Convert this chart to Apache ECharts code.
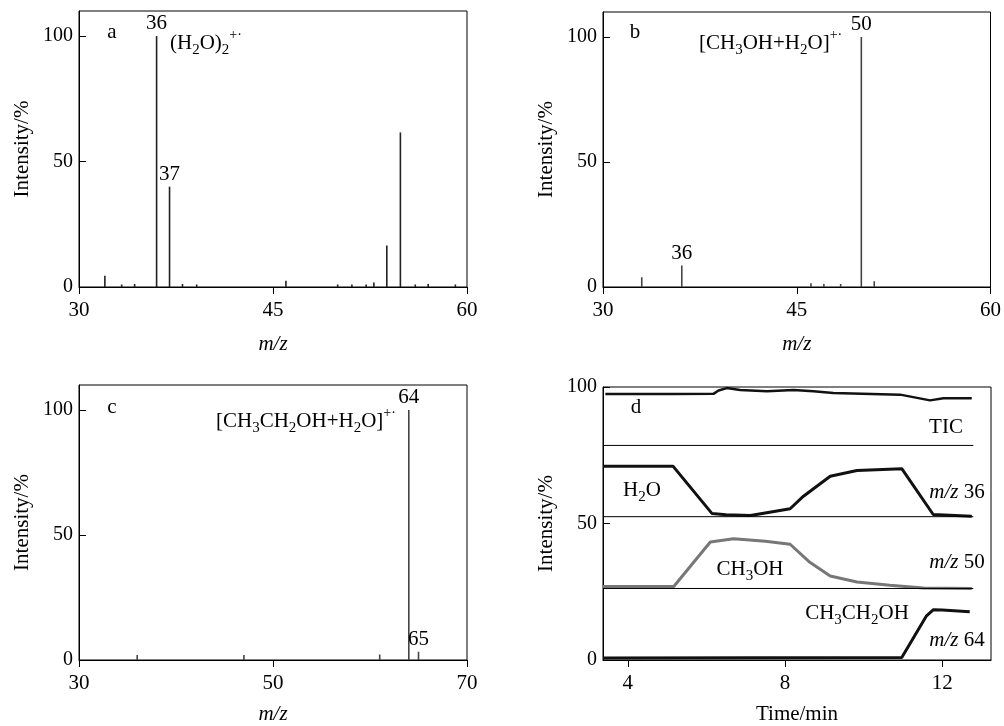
<!DOCTYPE html>
<html>
<head>
<meta charset="utf-8">
<script src="https://cdn.jsdelivr.net/npm/echarts@6/dist/echarts.min.js"></script>
<style>
    html, body { margin: 0; padding: 0; background: #fff; }
    #main { width: 1004px; height: 726px; }
</style>
</head>
<body>
<div id="main"></div>
<script>
// 质谱图 a: 水
var mzA = [32, 33.3, 34.3, 36, 37, 38, 39.1, 46, 50, 51.1, 52.2, 52.8, 53.8, 54.85, 56, 57, 59.1];
var intA = [4.5, 1, 1.2, 100, 40, 1.2, 1, 2.5, 1, 1, 1, 1.8, 16.5, 61.6, 1, 1.2, 1];
var labelA = [36, 37];
// 质谱图 b: 甲醇
var mzB = [33, 36.1, 46.1, 47.1, 48.4, 50, 51];
var intB = [3.9, 8.6, 1.5, 1.2, 1.2, 100, 2.3];
var labelB = [36.1, 50];
// 质谱图 c: 乙醇
var mzC = [36, 47, 61, 64, 65];
var intC = [2, 2, 2.2, 100, 3.3];
var labelC = [64, 65];
// 图 d: 离子流随时间变化
var ticTime = [3.43, 5.17, 6.18, 6.31, 6.52, 6.86, 7.54, 8.22, 8.72, 9.23, 10.93, 11.69, 12.03, 12.75];
var ticVal = [97.4, 97.4, 97.5, 98.7, 99.6, 98.9, 98.4, 98.9, 98.4, 97.8, 97.2, 95.1, 95.9, 95.9];
var h2oTime = [3.37, 5.15, 6.14, 6.5, 7.12, 8.13, 8.47, 9.15, 9.83, 10.97, 11.77, 12.75];
var h2oVal = [71.0, 71.0, 53.7, 53.2, 52.9, 55.4, 60.0, 67.3, 69.4, 70.1, 53.3, 52.7];
var meohTime = [3.37, 5.17, 6.1, 6.69, 7.5, 8.13, 8.64, 9.15, 9.83, 10.67, 11.52, 12.75];
var meohVal = [26.9, 26.9, 43.2, 44.4, 43.5, 42.4, 35.7, 30.8, 28.6, 27.4, 26.4, 26.2];
var etohTime = [3.37, 10.97, 11.6, 11.77, 12.0, 12.7];
var etohVal = [0.7, 0.9, 16.2, 18.4, 18.3, 17.7];
var sepLevels = [78.6, 52.5, 26.2];
var sepRange = [3.37, 12.79];

var FONT = 'Liberation Serif, Times New Roman, serif';

var rich = {
    n: { fontSize: 21, fontFamily: FONT, color: '#000', lineHeight: 30, verticalAlign: 'middle' },
    i: { fontSize: 21, fontFamily: FONT, fontStyle: 'italic', color: '#000', lineHeight: 30, verticalAlign: 'middle' },
    s: { fontSize: 15, fontFamily: FONT, color: '#000', lineHeight: 18, verticalAlign: 'bottom' },
    p: { fontSize: 14, fontFamily: FONT, color: '#000', lineHeight: 14, verticalAlign: 'top' }
};

function pairs(xs, ys) {
    return xs.map(function (x, k) { return [x, ys[k]]; });
}

function sticks(xs, ys, labels, idx, color) {
    var data = xs.map(function (x, k) {
        var item = { value: [x, ys[k]] };
        if (labels.indexOf(x) >= 0) {
            item.label = {
                show: true, position: 'top', distance: 2,
                formatter: String(Math.round(x)),
                fontFamily: FONT, fontSize: 21, color: '#000'
            };
        }
        return item;
    });
    return {
        type: 'bar', xAxisIndex: idx, yAxisIndex: idx,
        barWidth: 1.6, itemStyle: { color: color },
        data: data, animation: false
    };
}

function trace(xs, ys, color, width) {
    return {
        type: 'line', xAxisIndex: 3, yAxisIndex: 3,
        data: pairs(xs, ys), showSymbol: false, symbol: 'none',
        lineStyle: { color: color, width: width }, animation: false
    };
}

function xAx(idx, min, max, ticks, name, italic, gap) {
    return {
        type: 'value', gridIndex: idx, min: min, max: max,
        name: name, nameLocation: 'middle', nameGap: gap,
        nameTextStyle: { fontFamily: FONT, fontSize: 21, color: '#000', fontStyle: italic ? 'italic' : 'normal' },
        axisLine: { show: true, onZero: false, lineStyle: { color: '#000', width: 1 } },
        axisTick: { show: true, inside: false, length: 7, customValues: ticks, lineStyle: { color: '#000' } },
        axisLabel: { customValues: ticks, margin: 13, fontFamily: FONT, fontSize: 21, color: '#000' },
        splitLine: { show: false }
    };
}

function yAx(idx, max) {
    return {
        type: 'value', gridIndex: idx, min: 0, max: max,
        name: 'Intensity/%', nameLocation: 'middle', nameGap: 46,
        nameTextStyle: { fontFamily: FONT, fontSize: 21, color: '#000' },
        axisLine: { show: true, lineStyle: { color: '#000', width: 1 } },
        axisTick: { show: true, inside: true, length: 7, customValues: [0, 50, 100], lineStyle: { color: '#000' } },
        axisLabel: { customValues: [0, 50, 100], margin: 6, fontFamily: FONT, fontSize: 20, color: '#000' },
        splitLine: { show: false }
    };
}

function txt(x, y, text, align) {
    return {
        type: 'text', x: x, y: y, silent: true,
        style: { text: text, rich: rich, align: align || 'left', verticalAlign: 'middle' }
    };
}

var series = [
    sticks(mzA, intA, labelA, 0, '#222'),
    sticks(mzB, intB, labelB, 1, '#444'),
    sticks(mzC, intC, labelC, 2, '#444'),
    trace(ticTime, ticVal, '#111', 2.5),
    trace(h2oTime, h2oVal, '#111', 3),
    trace(meohTime, meohVal, '#777', 3),
    trace(etohTime, etohVal, '#111', 3)
];
sepLevels.forEach(function (lv) {
    series.push(trace(sepRange, [lv, lv], '#000', 1));
});

var option = {
    backgroundColor: '#fff',
    animation: false,
    grid: [
        { left: 79, top: 11, width: 388, height: 276, show: true, borderColor: '#000', borderWidth: 1 },
        { left: 603, top: 12, width: 388, height: 275, show: true, borderColor: '#000', borderWidth: 1 },
        { left: 79, top: 385, width: 388, height: 276, show: true, borderColor: '#000', borderWidth: 1 },
        { left: 603, top: 387, width: 388, height: 274, show: true, borderColor: '#000', borderWidth: 1 }
    ],
    xAxis: [
        xAx(0, 30, 60, [30, 45, 60], 'm/z', true, 47),
        xAx(1, 30, 60, [30, 45, 60], 'm/z', true, 47),
        xAx(2, 30, 70, [30, 50, 70], 'm/z', true, 44),
        xAx(3, 3.37, 13.24, [4, 8, 12], 'Time/min', false, 44)
    ],
    yAxis: [yAx(0, 110), yAx(1, 110), yAx(2, 110), yAx(3, 100)],
    series: series,
    graphic: [
        txt(112, 32, '{n|a}', 'center'),
        txt(635, 32, '{n|b}', 'center'),
        txt(112, 407, '{n|c}', 'center'),
        txt(636, 407, '{n|d}', 'center'),
        txt(170, 43, '{n|(H}{s|2}{n|O)}{s|2}{p|+·}'),
        txt(699, 43, '{n|[CH}{s|3}{n|OH+H}{s|2}{n|O]}{p|+·}'),
        txt(216, 421, '{n|[CH}{s|3}{n|CH}{s|2}{n|OH+H}{s|2}{n|O]}{p|+·}'),
        txt(946, 427, '{n|TIC}', 'center'),
        txt(642, 490, '{n|H}{s|2}{n|O}', 'center'),
        txt(957, 492, '{i|m/z}{n| 36}', 'center'),
        txt(750, 569, '{n|CH}{s|3}{n|OH}', 'center'),
        txt(957, 562, '{i|m/z}{n| 50}', 'center'),
        txt(857, 613, '{n|CH}{s|3}{n|CH}{s|2}{n|OH}', 'center'),
        txt(957, 640, '{i|m/z}{n| 64}', 'center')
    ]
};

var myChart = echarts.init(document.getElementById('main'));
myChart.setOption(option);
</script>
</body>
</html>
